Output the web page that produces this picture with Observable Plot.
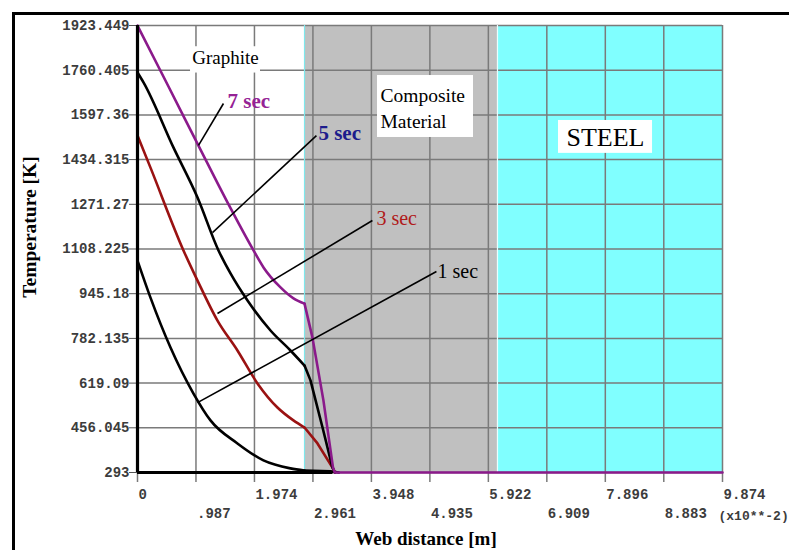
<!DOCTYPE html>
<html>
<head>
<meta charset="utf-8">
<script src="https://cdn.jsdelivr.net/npm/d3@7"></script>
<script src="https://cdn.jsdelivr.net/npm/@observablehq/plot@0.6"></script>
<style>
  html, body { margin: 0; padding: 0; background: #fff; }
  #wrap { position: relative; width: 789px; height: 550px; overflow: hidden; }
  #border { position: absolute; left: 12px; top: 12px; width: 800px; height: 560px;
            border: 3px solid #000; pointer-events: none; }
</style>
</head>
<body>
<div id="wrap"><div id="chart"></div><div id="border"></div></div>
<script>
// ---- tick values and labels ----
const xTicks = [0, 0.987, 1.974, 2.961, 3.948, 4.935, 5.922, 6.909, 7.896, 8.883, 9.874];
const xTickLabels = ["0", ".987", "1.974", "2.961", "3.948", "4.935", "5.922", "6.909", "7.896", "8.883", "9.874"];
const yTicks = [293, 456.045, 619.09, 782.135, 945.18, 1108.225, 1271.27, 1434.315, 1597.36, 1760.405, 1923.449];
const yTickLabels = ["293", "456.045", "619.09", "782.135", "945.18", "1108.225", "1271.27", "1434.315", "1597.36", "1760.405", "1923.449"];

// ---- material regions (web distance, x10^-2 m) ----
const regionNames = ["Graphite", "Composite", "Steel"];
const regionStart = [0, 2.819, 6.076];
const regionEnd = [2.819, 6.076, 9.874];

// ---- temperature profiles ----
const sec1X = [0, 0.219, 0.557, 0.945, 1.232, 1.687, 2.126, 2.582, 2.819, 3.258, 3.40];
const sec1T = [1066, 931, 749, 581, 483, 399, 337, 308, 300, 297, 293];
const sec3X = [0, 0.219, 0.776, 1.013, 1.350, 1.687, 2.025, 2.362, 2.632, 2.819, 3.038, 3.291, 3.33];
const sec3T = [1522, 1405, 1103, 993, 847, 738, 618, 530, 483, 457, 399, 311, 293];
const sec5X = [0, 0.101, 0.608, 1.013, 1.367, 1.570, 1.857, 2.245, 2.582, 2.819, 2.920, 3.123, 3.291, 3.33];
const sec5T = [1752, 1716, 1478, 1296, 1103, 1019, 920, 811, 738, 683, 629, 457, 311, 293];
const sec7X = [0, 0.523, 1.046, 1.519, 1.958, 2.127, 2.414, 2.633, 2.819, 2.953, 3.138, 3.30, 3.33, 9.874];
const sec7T = [1923, 1701, 1478, 1278, 1103, 1041, 968, 928, 909, 785, 556, 311, 293, 293];

// ---- curve labels and leader lines ----
const curveLabels = ["7 sec", "5 sec", "3 sec", "1 sec"];
const labelX = [1.519, 3.054, 4.032, 5.063];
const labelT = [1646, 1530, 1219, 1026];
const leaderFromX = [1.030, 1.266, 1.350, 1.013];
const leaderFromT = [1486, 1168, 873, 548];
const leaderToX = [1.451, 3.020, 3.965, 5.046];
const leaderToT = [1639, 1522, 1212, 1026];

const xMin = 0, xMax = 9.874, yMin = 293, yMax = 1923.449;

// split each profile at the graphite / composite interface:
// smooth inside graphite, straight segments beyond
function series(xs, ts) {
  const out = [];
  xs.forEach((x, i) => {
    if (x <= regionEnd[0]) out.push({x, t: ts[i], seg: 0});
    if (x >= regionEnd[0]) out.push({x, t: ts[i], seg: 1});
  });
  return out;
}
const idx4 = [0, 1, 2, 3];

const serif = "Liberation Serif, Times New Roman, serif";
const mono = "Liberation Mono, Courier New, monospace";
const labelColors = ["#952295", "#1c1c8c", "#b01a1a", "#000000"];
const labelWeights = ["bold", "bold", "normal", "normal"];

const curveMarks = (xs, ts, color) => [
  Plot.line(series(xs, ts).filter(d => d.seg === 0), {x: "x", y: "t", stroke: color, strokeWidth: 2.6, curve: "monotone-x"}),
  Plot.line(series(xs, ts).filter(d => d.seg === 1), {x: "x", y: "t", stroke: color, strokeWidth: 2.6, curve: "linear"})
];

const chart = Plot.plot({
  width: 789,
  height: 550,
  marginLeft: 137,
  marginRight: 67,
  marginTop: 25,
  marginBottom: 78,
  style: {background: "transparent", fontFamily: serif},
  x: {domain: [xMin, xMax]},
  y: {domain: [yMin, yMax]},
  marks: [
    // material backgrounds
    Plot.rect([0], {x1: () => regionStart[0], x2: () => regionEnd[0], y1: yMin, y2: yMax, fill: "#ffffff"}),
    Plot.rect([1], {x1: () => regionStart[1], x2: () => regionEnd[1], y1: yMin, y2: yMax, fill: "#c0c0c0"}),
    Plot.rect([2], {x1: () => regionStart[2], x2: () => regionEnd[2], y1: yMin, y2: yMax, fill: "#80ffff"}),
    // grid
    Plot.ruleX(xTicks, {x: d => d, y1: yMin, y2: yMax, stroke: "#7a7a7a", strokeWidth: 1.5}),
    Plot.ruleY(yTicks, {y: d => d, x1: xMin, x2: xMax, stroke: "#7a7a7a", strokeWidth: 1.5}),
    // region boundaries
    Plot.ruleX([regionStart[1]], {x: d => d, y1: yMin, y2: yMax, stroke: "#7fe8ec", strokeWidth: 1.2}),
    Plot.ruleX([regionStart[2]], {x: d => d, y1: yMin, y2: yMax, stroke: "#e8ffff", strokeWidth: 1.2}),
    // axis ticks
    Plot.axisX(xTicks, {tickSize: 10, tickFormat: () => "", stroke: "#7a7a7a", strokeWidth: 1.5, label: null}),
    Plot.axisY(yTicks, {tickSize: 8, tickFormat: () => "", stroke: "#555", strokeWidth: 1, label: null}),
    // temperature curves
    ...curveMarks(sec1X, sec1T, "#000"),
    ...curveMarks(sec3X, sec3T, "#9a1212"),
    ...curveMarks(sec5X, sec5T, "#000"),
    ...curveMarks(sec7X, sec7T, "#8b1a8b"),
    // axis lines
    Plot.ruleX([xMin], {x: d => d, y1: yMin, y2: yMax, stroke: "#000", strokeWidth: 3.2}),
    Plot.ruleY([yMin], {y: d => d, x1: xMin, x2: 3.30, stroke: "#000", strokeWidth: 3.2}),
    // leader lines
    Plot.link(idx4, {x1: i => leaderFromX[i], y1: i => leaderFromT[i], x2: i => leaderToX[i], y2: i => leaderToT[i], stroke: "#000", strokeWidth: 1.6}),
    // curve labels
    ...idx4.map(i => Plot.text([i], {x: () => labelX[i], y: () => labelT[i], text: () => curveLabels[i],
      textAnchor: "start", lineAnchor: "middle", fill: labelColors[i], fontWeight: labelWeights[i],
      fontSize: i < 2 ? 21 : 20, fontFamily: serif})),
    // region label boxes
    Plot.rect([0], {x1: 0.895, x2: 2.076, y1: 1750, y2: 1846, fill: "#fff"}),
    Plot.rect([0], {x1: 4.051, x2: 5.671, y1: 1515, y2: 1741, fill: "#fff"}),
    Plot.rect([0], {x1: 7.106, x2: 8.693, y1: 1457, y2: 1577, fill: "#fff"}),
    Plot.text([regionNames[0]], {x: () => 1.485, y: () => 1807, text: d => d, fontSize: 19, fontFamily: serif, lineAnchor: "middle"}),
    Plot.text(["Composite", "Material"], {x: () => 4.101, y: (d, i) => [1668, 1573][i], text: d => d, textAnchor: "start", fontSize: 19.5, fontFamily: serif, lineAnchor: "middle"}),
    Plot.text([regionNames[2].toUpperCase()], {x: () => 7.899, y: () => 1515, text: d => d, fontSize: 26, fontFamily: serif, lineAnchor: "middle"}),
    // tick labels
    Plot.text(yTicks, {y: d => d, text: (d, i) => yTickLabels[i], frameAnchor: "left", textAnchor: "end", lineAnchor: "middle",
      dx: -8, fontFamily: mono, fontWeight: "bold", fontSize: 14, fill: "#3c3c3c"}),
    Plot.text(xTicks.filter((d, i) => i % 2 === 0), {x: d => d, text: d => xTickLabels[xTicks.indexOf(d)], frameAnchor: "bottom",
      textAnchor: "start", lineAnchor: "middle", dy: 22, dx: 1, fontFamily: mono, fontWeight: "bold", fontSize: 14, fill: "#3c3c3c"}),
    Plot.text(xTicks.filter((d, i) => i % 2 === 1), {x: d => d, text: d => xTickLabels[xTicks.indexOf(d)], frameAnchor: "bottom",
      textAnchor: "start", lineAnchor: "middle", dy: 41, dx: 1, fontFamily: mono, fontWeight: "bold", fontSize: 14, fill: "#3c3c3c"}),
    Plot.text(["(x10**-2)"], {frameAnchor: "bottom-right", text: d => d, textAnchor: "start", lineAnchor: "middle",
      dx: -4, dy: 43, fontFamily: mono, fontWeight: "bold", fontSize: 13, fill: "#3c3c3c"}),
    // axis titles
    Plot.text(["Web distance [m]"], {frameAnchor: "bottom", text: d => d, textAnchor: "middle", lineAnchor: "middle", dx: -4, dy: 66,
      fontFamily: serif, fontWeight: "bold", fontSize: 19}),
    Plot.text(["Temperature [K]"], {frameAnchor: "left", text: d => d, textAnchor: "middle", lineAnchor: "middle", rotate: -90, dx: -108, dy: -22,
      fontFamily: serif, fontWeight: "bold", fontSize: 19.5})
  ]
});
document.getElementById("chart").appendChild(chart);
</script>
</body>
</html>
